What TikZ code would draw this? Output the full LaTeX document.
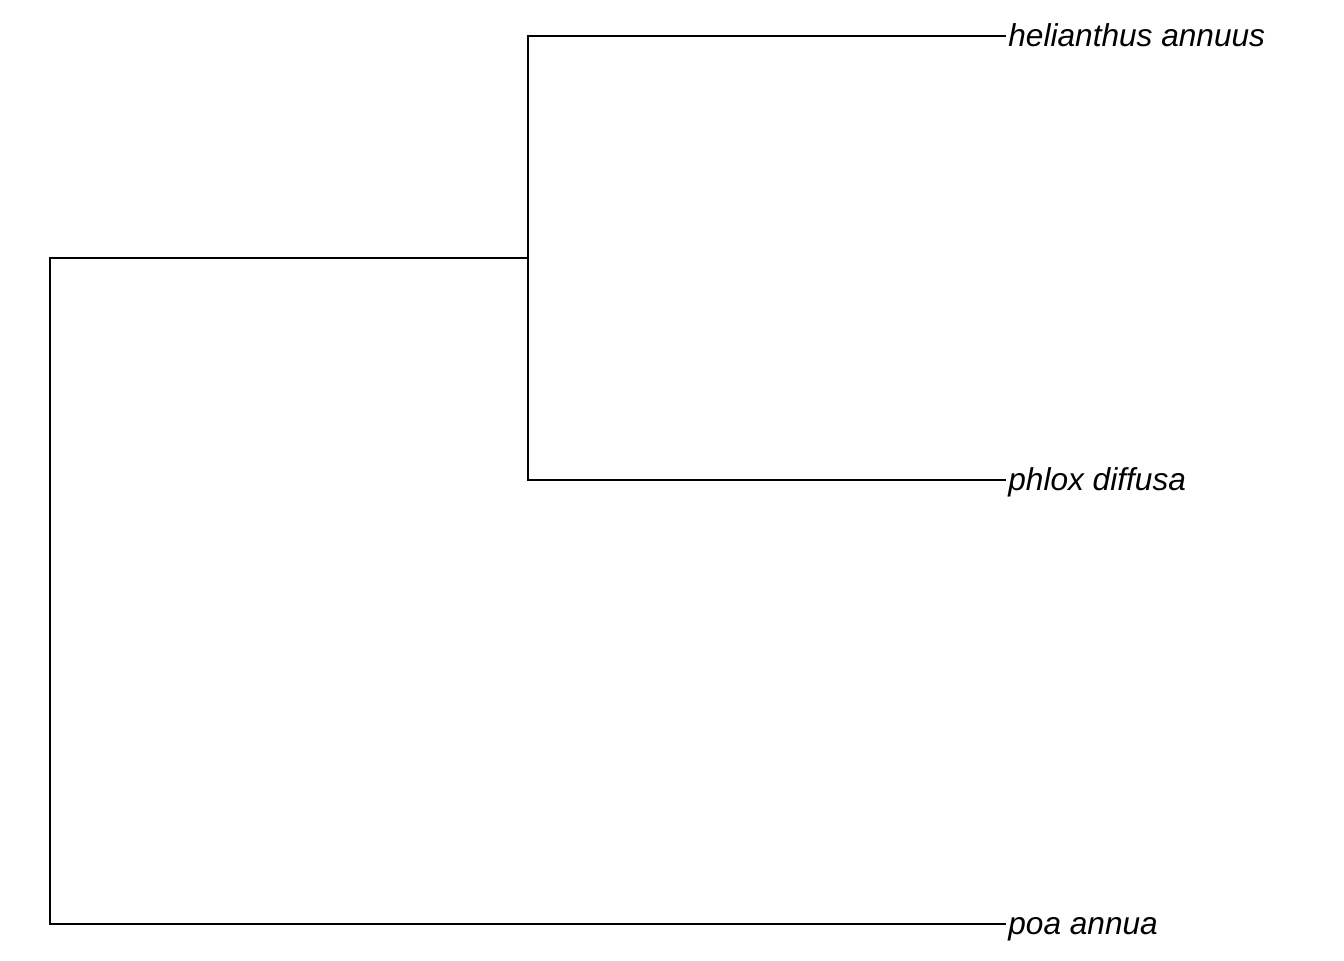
\documentclass[tikz,border=0pt]{standalone}
\usepackage{fontspec}
\setmainfont{Liberation Sans}
\usepackage{tikz}
\usetikzlibrary{positioning}

\begin{document}
\begin{tikzpicture}[x=0.02cm, y=-0.02cm, line width=1.1pt]
        \useasboundingbox (0,0) rectangle (1344,960);

        % inner nodes
        \coordinate (root) at (50,591);
        \coordinate (n1) at (528,258);

        % tips
        \coordinate (t1) at (1006,36);
        \coordinate (t2) at (1006,480);
        \coordinate (t3) at (1006,924);

        % labels
        \node (l1) at (t1) [anchor=base west, inner sep=0pt, xshift=0.8pt, yshift=-6pt, font=\fontsize{18}{22}\selectfont\itshape] {helianthus annuus};
        \node (l2) at (t2) [anchor=base west, inner sep=0pt, xshift=0.8pt, yshift=-6pt, font=\fontsize{18}{22}\selectfont\itshape] {phlox diffusa};
        \node (l3) at (t3) [anchor=base west, inner sep=0pt, xshift=0.8pt, yshift=-6pt, font=\fontsize{18}{22}\selectfont\itshape] {poa annua};

        % branches
        \draw (t1) -| (n1) |- (t2);
        \draw (n1) -| (root) |- (t3);
    \end{tikzpicture}
\end{document}
